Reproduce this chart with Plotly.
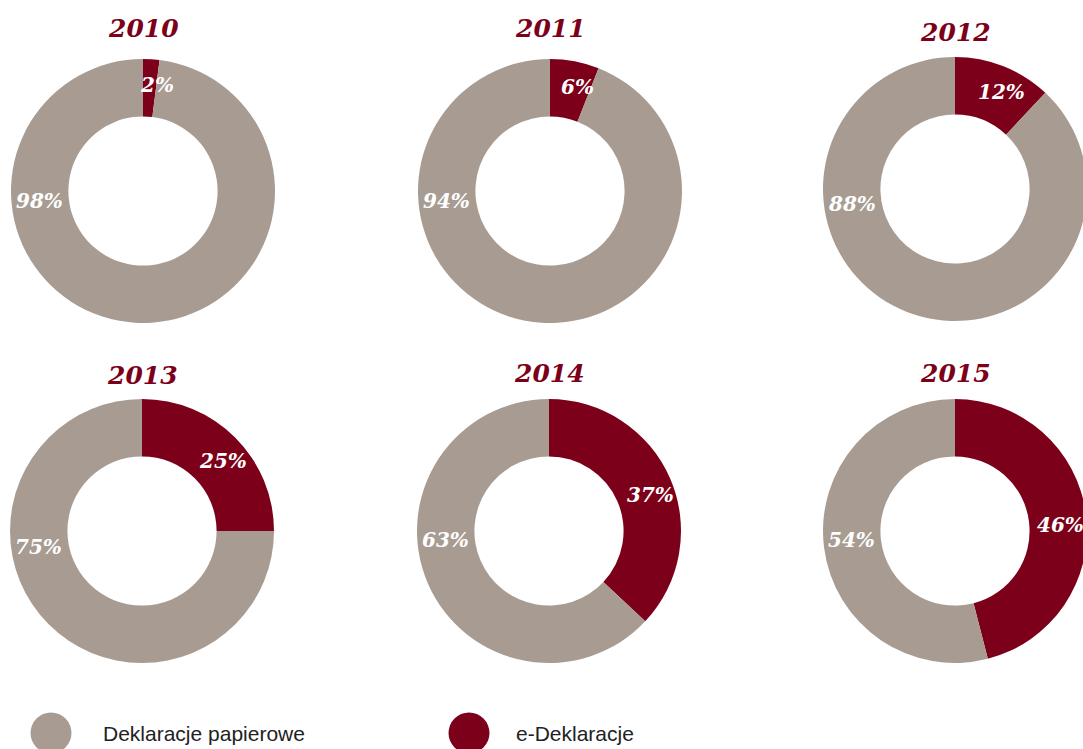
import math
import plotly.graph_objects as go

# dane
years = ["2010", "2011", "2012", "2013", "2014", "2015"]
e_deklaracje = [2, 6, 12, 25, 37, 46]
papierowe = [98, 94, 88, 75, 63, 54]
categories = ["e-Deklaracje", "Deklaracje papierowe"]
legend_labels = ["Deklaracje papierowe", "e-Deklaracje"]

RED = "#7C0019"
GREY = "#A89C92"
SERIF = "DejaVu Serif"
SANS = "Liberation Sans, Arial, sans-serif"

W, H = 1100, 770
R = 132
HOLE = 0.565
RM = R * (1 + HOLE) / 2  # promień środka pierścienia
centres = [(143, 191), (550, 191), (955, 189), (142, 531), (549, 531), (955, 531)]
title_y = [28, 28, 33, 376, 373, 373]
paper_label_dy = [10, 10, 15, 16, 9, 9]

label_font = dict(family=SERIF, size=20, color="white", weight="bold", style="italic")

fig = go.Figure()
annotations = []

for i, year in enumerate(years):
    cx, cy = centres[i]
    fig.add_trace(go.Pie(
        labels=categories,
        values=[e_deklaracje[i], papierowe[i]],
        hole=HOLE,
        sort=False,
        direction="clockwise",
        rotation=0,
        marker=dict(colors=[RED, GREY], line=dict(width=0)),
        textinfo="none",
        domain=dict(x=[(cx - R) / W, (cx + R) / W], y=[1 - (cy + R) / H, 1 - (cy - R) / H]),
        showlegend=False,
        hoverinfo="label+percent",
    ))
    # etykieta e-deklaracji przy dwusiecznej wycinka
    share = e_deklaracje[i] / (e_deklaracje[i] + papierowe[i])
    ang = math.pi * share + math.radians(4)
    ex = cx + (RM + 4) * math.sin(ang)
    ey = cy - (RM + 4) * math.cos(ang)
    annotations.append(dict(
        x=min(ex, 1060) / W, y=1 - ey / H, xref="paper", yref="paper",
        xanchor="center", yanchor="middle", showarrow=False,
        text=f"{e_deklaracje[i]}%", font=label_font,
    ))
    # etykieta deklaracji papierowych po lewej stronie pierścienia
    annotations.append(dict(
        x=(cx - RM) / W, y=1 - (cy + paper_label_dy[i]) / H, xref="paper", yref="paper",
        xanchor="center", yanchor="middle", showarrow=False,
        text=f"{papierowe[i]}%", font=label_font,
    ))
    annotations.append(dict(
        x=cx / W, y=1 - title_y[i] / H, xref="paper", yref="paper",
        xanchor="center", yanchor="middle", showarrow=False,
        text=year,
        font=dict(family=SERIF, size=25, color=RED, weight="bold", style="italic"),
    ))

# legenda
legend_x = [51, 469]
legend_text_x = [101, 514]
legend_colors = [GREY, RED]
legend_y = 733
fig.add_trace(go.Scatter(
    x=legend_x, y=[legend_y, legend_y], mode="markers",
    marker=dict(size=41, color=legend_colors, line=dict(width=0)),
    showlegend=False, hoverinfo="skip",
))
for tx, lab in zip(legend_text_x, legend_labels):
    annotations.append(dict(
        x=tx, y=legend_y, xref="x", yref="y", xanchor="left", yanchor="middle",
        showarrow=False, text=lab, font=dict(family=SANS, size=21, color="#222222"),
    ))

fig.update_layout(
    width=W, height=H,
    margin=dict(l=0, r=0, t=0, b=0),
    paper_bgcolor="white", plot_bgcolor="white",
    xaxis=dict(range=[0, W], visible=False, domain=[0, 1], fixedrange=True),
    yaxis=dict(range=[H, 0], visible=False, domain=[0, 1], fixedrange=True),
    annotations=annotations,
    showlegend=False,
)

fig.write_html(
    "out.html",
    config={"displayModeBar": False},
    post_script="document.body.style.margin='0';document.body.style.overflow='hidden';",
)
